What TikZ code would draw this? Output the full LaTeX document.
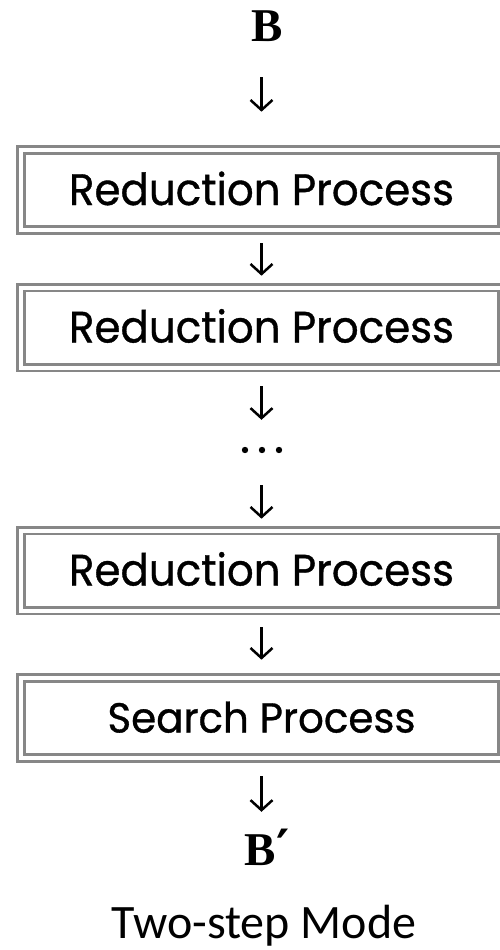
\documentclass[tikz,border=0pt]{standalone}
\usepackage{fontspec}
\usepackage{graphicx}
\usetikzlibrary{arrows.meta}
\newfontfamily\procfont[FakeBold=0.8]{Poppins}
\newfontfamily\capfont{Carlito}
\newfontfamily\symfont{Liberation Serif}
\newfontfamily\primefont{DejaVu Serif}
\definecolor{frame}{RGB}{135,135,135}
\tikzset{
  procbox/.style={draw=frame, line width=2.6pt, double=white, double distance=4pt,
    minimum width=481pt, minimum height=80pt, inner sep=0pt, text depth=0pt},
  symnode/.style={inner sep=0pt, text height=32pt, text depth=0pt, anchor=base,
    font=\fontsize{47}{50}\selectfont\symfont\bfseries},
  flow/.style={line width=2.5pt, -{Straight Barb[length=10pt,width=22pt,line width=2.5pt]}}
}
\begin{document}
\begin{tikzpicture}[x=1pt,y=-1pt]
\useasboundingbox (0,0) rectangle (500,950);

% input and output symbols
\node[symnode] (B) at (267.5,42) {B};
\node[symnode] (Bp) at (267,865) {B\kern1pt{\primefont\bfseries\fontsize{50}{54}\selectfont ′}};

% process boxes
\node[procbox, text height=30pt] (r1) at (261.5,190)
  {\resizebox{385pt}{33.5pt}{\procfont Reduction Process}};
\node[procbox, text height=30pt] (r2) at (261.5,327.5)
  {\resizebox{385pt}{33.5pt}{\procfont Reduction Process}};
\node[procbox, text height=30pt] (r3) at (261.5,570.5)
  {\resizebox{385pt}{33.5pt}{\procfont Reduction Process}};
\node[procbox, text height=29pt] (s1) at (261.5,718)
  {\resizebox{308pt}{31pt}{\procfont Search Process}};

% ellipsis between the repeated reductions
\node[minimum width=40pt, minimum height=10pt, inner sep=0pt] (dots) at (262,450) {};
\foreach \dx in {-17,0,17}
  \fill ([xshift=\dx pt]dots.center) circle (3.2pt);

% flow arrows
\draw[flow, shorten <=35pt, shorten >=37pt] (B.south -| r1.north) -- (r1.north);
\draw[flow, shorten <=12pt, shorten >=10.5pt] (r1.south) -- (r2.north);
\draw[flow, shorten <=17.5pt, shorten >=25pt] (r2.south) -- (dots.north -| r2.south);
\draw[flow, shorten <=30pt, shorten >=10.5pt] (dots.south -| r3.north) -- (r3.north);
\draw[flow, shorten <=15.5pt, shorten >=17pt] (r3.south) -- (s1.north);
\draw[flow, shorten <=17pt, shorten >=21pt] (s1.south) -- (Bp.north -| s1.south);

% caption
\node[anchor=base, inner sep=0pt, font=\fontsize{48}{52}\selectfont\capfont] (cap) at (264,938) {Two-step Mode};
\end{tikzpicture}
\end{document}
